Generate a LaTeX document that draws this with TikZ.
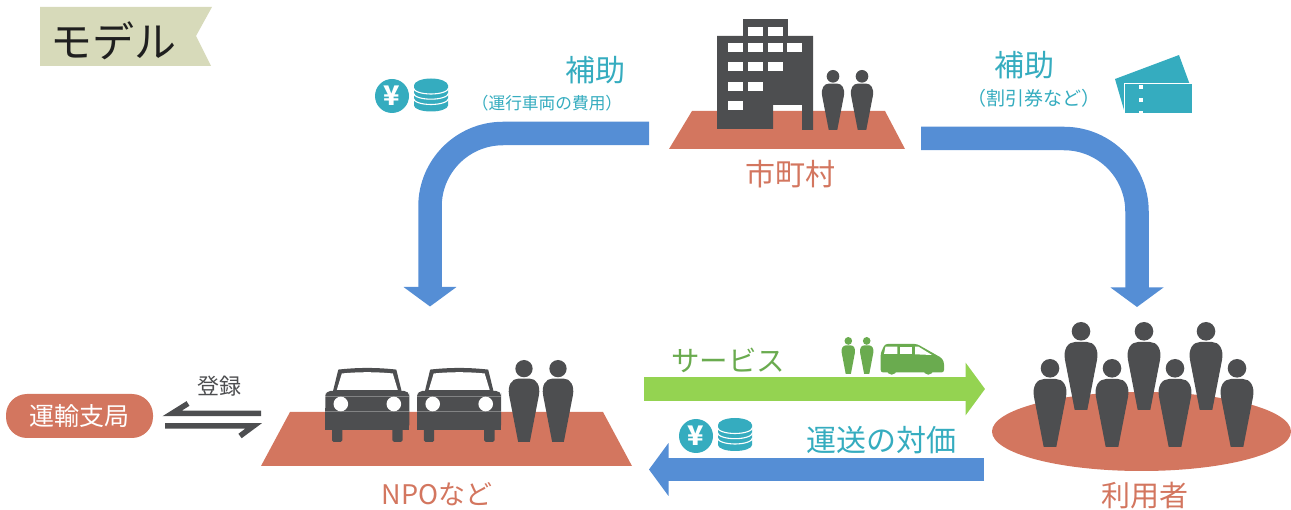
\documentclass[tikz,border=0pt]{standalone}
\usepackage{fontspec}
\setmainfont{Noto Sans CJK JP}
\usetikzlibrary{arrows.meta,shapes.geometric}
\definecolor{plate}{HTML}{D3765F}
\definecolor{darkfig}{HTML}{4D4E50}
\definecolor{teal}{HTML}{35ACBF}
\definecolor{flowblue}{HTML}{558ED5}
\definecolor{flowgreen}{HTML}{94D351}
\definecolor{greentxt}{HTML}{6AAB4F}
\definecolor{bannerbg}{HTML}{D7DABA}
\newcommand{\fs}[1]{\fontsize{#1}{#1}\selectfont}
\tikzset{
  lbl/.style={inner sep=0pt,outer sep=0pt,align=center},
  platefill/.style={fill=plate,draw=none},
  bigflow/.style={draw=flowblue,line width=23.5pt,-{Triangle[width=52pt,length=19.5pt]}},
  regline/.style={draw=darkfig,line width=5.5pt,line cap=butt,miter limit=10},
  yencoin/.style={circle,fill=teal,minimum size=34pt,inner sep=0pt,text=white,font=\fs{27}\bfseries},
  win/.style={fill=white,draw=none},
  pics/person/.style={code={
    \fill[#1] (0,9.3) circle[radius=9.3];
    \fill[#1] (-6.3,88) -- (-16,38) .. controls (-18,27) and (-13,20) .. (-6,20)
       -- (6,20) .. controls (13,20) and (18,27) .. (16,38) -- (6.3,88) -- cycle;
  }},
  pics/coins/.style={code={
    \fill[teal] (-17,7) -- (-17,27) arc[start angle=180,end angle=0,x radius=17,y radius=6] -- (17,7) -- cycle;
    \foreach \i in {9.5,14.7,20}{
      \draw[white,line width=1.1pt] (-17.5,\i) arc[start angle=180,end angle=0,x radius=17.5,y radius=6];
    }
    \fill[teal] (0,7) ellipse[x radius=17,y radius=7];
  }},
  pics/car/.style={code={
    \fill[darkfig] (-34.5,24) -- (-29,1.6) .. controls (-10,-0.6) and (10,-0.6) .. (29,1.6) -- (34.5,24) -- cycle;
    \fill[white] (-30.5,22) -- (-25.5,5.5) .. controls (-10,3.8) and (10,3.8) .. (25.5,5.5) -- (30.5,22) -- cycle;
    \fill[darkfig,rounded corners=5pt] (-42,30) -- (-42,23) -- (42,23) -- (42,30) -- (42,62) -- (-42,62) -- cycle;
    \fill[darkfig] (-42,40) rectangle (42,62);
    \fill[darkfig,rounded corners=1.5pt] (-35.3,58) rectangle (-25,73.8);
    \fill[darkfig,rounded corners=1.5pt] (25,58) rectangle (35.3,73.8);
    \fill[white] (-26.5,36) circle[radius=7.3];
    \fill[white] (26.5,36) circle[radius=7.3];
    \draw[white,opacity=.3,line width=.5pt] (-42,28) -- (42,28);
    \draw[white,opacity=.3,line width=.5pt] (-42,43) -- (42,43);
  }},
}
\begin{document}
\begin{tikzpicture}[x=1pt,y=-1pt]
\useasboundingbox (0,0) rectangle (1291,510);
% banner
\fill[bannerbg] (40,7) -- (212,7) -- (196,36) -- (211,66) -- (40,66) -- cycle;
\node[lbl,font=\fs{42},text=black!88] (title) at (113,41) {モデル};
% coordinates for the flows
\coordinate (subAstart) at (649,133.5);
\coordinate (subAcorner) at (430,133.5);
\coordinate (subAend) at (430,306.5);
\coordinate (subBstart) at (921,138.5);
\coordinate (subBcorner) at (1137,138.5);
\coordinate (subBend) at (1137,307);
\coordinate (svcstart) at (644,389);
\coordinate (svcend) at (985,389);
\coordinate (paystart) at (984,469.5);
\coordinate (payend) at (649,469.5);
\draw[bigflow,rounded corners=73pt] (subAstart) -- (subAcorner) -- (subAend);
\draw[bigflow,rounded corners=73pt] (subBstart) -- (subBcorner) -- (subBend);
\draw[bigflow,draw=flowgreen] (svcstart) -- (svcend);
\draw[bigflow] (paystart) -- (payend);
% municipality
\fill[platefill] (669,149) -- (905,149) -- (885,111) -- (692,111) -- cycle;
\fill[darkfig] (743,19) rectangle (788,36);
\fill[darkfig] (717,36) -- (813,36) -- (813,130) -- (802,130) -- (802,105) -- (773,105) -- (773,129) -- (717,129) -- cycle;
\foreach \xx/\yy in {748/27,768/27,
   728/43,748/43,768/43,787/43,
   728/62,748/62,768/62,
   728/82,748/82,
   728/101}{
  \fill[win] (\xx,\yy) rectangle ++(15,9.5);
}
\pic[scale=.68] at (833,70) {person=darkfig};
\pic[scale=.68] at (862,70) {person=darkfig};
\node[lbl,font=\fs{30},text=plate] (city) at (790.5,174) {市町村};
% left subsidy labels
\node[lbl,font=\fs{30},text=teal] (subL) at (595,70) {補助};
\node[lbl,font=\fs{16.7},text=teal] (subLs) at (547,103) {（運行車両の費用）};
\node[yencoin] (yenA) at (392,96) {¥};
\pic at (431,78.5) {coins};
% right subsidy labels
\node[lbl,font=\fs{30},text=teal] (subR) at (1024,65) {補助};
\node[lbl,font=\fs{19},text=teal] (subRs) at (1034,98) {（割引券など）};
\fill[teal] (1115,79) -- (1179,55) -- (1190,85) -- (1124,110) -- cycle;
\fill[teal,draw=white,line width=1pt] (1124,84) rectangle (1192.5,113.5);
\foreach \yy in {87,100,113}{\fill[white] (1139,\yy-2) rectangle ++(4,4);}
% registration office
\node[lbl,rounded corners=21pt,fill=plate,minimum width=147pt,minimum height=44pt,font=\fs{25},text=white] (office) at (79.5,416) {運輸支局};
\node[lbl,font=\fs{22},text=darkfig] (reg) at (219,386) {登録};
\coordinate (regAstart) at (261,413.5);
\coordinate (regAmid) at (172,413.5);
\coordinate (regAend) at (188,403.5);
\coordinate (regBstart) at (165,426);
\coordinate (regBmid) at (253.5,426);
\coordinate (regBend) at (240,436);
\draw[regline] (regAstart) -- (regAmid) -- (regAend);
\draw[regline] (regBstart) -- (regBmid) -- (regBend);
% NPO
\fill[platefill] (261,466) -- (632,466) -- (603,412) -- (290,412) -- cycle;
\pic at (367.3,368) {car};
\pic at (459.2,368) {car};
\pic[scale=.93] at (524,360) {person=darkfig};
\pic[scale=.93] at (558,360) {person=darkfig};
\node[lbl,font=\fs{27},text=plate] (npo) at (437,494) {NPOなど};
% service row
\node[lbl,font=\fs{28.5},text=greentxt] (svc) at (728,360) {サービス};
\pic[xscale=.41,yscale=.42] at (848.3,337) {person=greentxt};
\pic[xscale=.41,yscale=.42] at (866.7,337) {person=greentxt};
\fill[greentxt,rounded corners=2.5pt] (880.7,372.5) -- (880.7,353) -- (885,344) -- (917,344) -- (941.7,358) -- (944,362) -- (944,372.5) -- cycle;
\fill[greentxt] (891.7,369.7) circle[radius=5];
\fill[greentxt] (928.3,369.7) circle[radius=5];
\fill[win] (885.5,346.7) -- (897.3,346.7) -- (897.3,354) -- (884,354) -- cycle;
\fill[win] (900,346.7) -- (912.3,346.7) -- (912.3,354) -- (900,354) -- cycle;
\fill[win] (915,346.7) -- (918.5,346.7) -- (932,355) -- (915,354.3) -- cycle;
% payment row
\node[yencoin] (yenB) at (696,436) {¥};
\pic at (735,418) {coins};
\node[lbl,font=\fs{30},text=teal] (pay) at (881,440) {運送の対価};
% users
\fill[platefill] (1141.5,431.5) ellipse[x radius=149.5,y radius=39.5];
\foreach \xx in {1081,1144,1206}{\pic at (\xx,322) {person=darkfig};}
\foreach \xx in {1050,1112,1175,1237}{\pic at (\xx,359) {person=darkfig};}
\node[lbl,font=\fs{29},text=plate] (users) at (1145,496) {利用者};
\end{tikzpicture}
\end{document}
